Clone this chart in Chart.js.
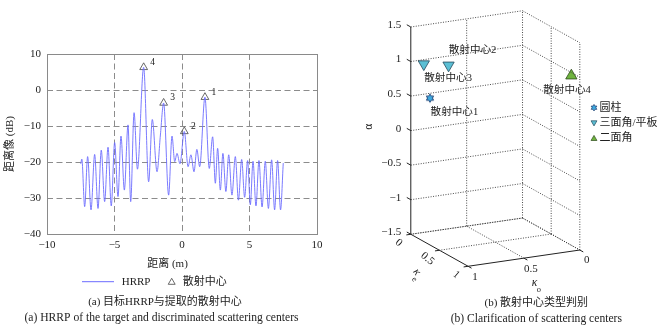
<!DOCTYPE html>
<html>
<head>
<meta charset="utf-8">
<script src="https://cdn.jsdelivr.net/npm/chart.js@4.4.1/dist/chart.umd.min.js"></script>
<style>
  html, body { margin: 0; padding: 0; background: #fff; }
  #wrap { position: relative; width: 664px; height: 329px; overflow: hidden; }
  #hrrp { position: absolute; left: 0; top: 0; }
  #types { position: absolute; left: 340px; top: 0; }
</style>
</head>
<body>
<div id="wrap">
  <canvas id="hrrp" width="340" height="329"></canvas>
  <canvas id="types" width="324" height="329"></canvas>
</div>
<script>
/* =====================================
   HRRP + SCATTERING CENTRE TYPES
===================================== */

const FONT = '"Liberation Serif", "Noto Sans CJK SC", serif';
const INK = "#222";

/* ---------- (a) HRRP DATA ---------- */
const rangeM = [
  -7.50, -7.42, -7.21, -6.99, -6.74, -6.47, -6.22, -5.98, -5.73, -5.48,
  -5.24, -4.99, -4.74, -4.52, -4.27, -4.00, -3.80, -3.55, -3.30, -2.84,
  -2.47, -2.20, -1.85, -1.60, -1.36, -0.99, -0.74, -0.54, -0.37, -0.15,
  0.17, 0.45, 0.66, 0.89, 1.10, 1.31, 1.70, 2.02, 2.27, 2.47,
  2.64, 2.84, 3.03, 3.25, 3.46, 3.70, 3.95, 4.18, 4.42, 4.64,
  4.86, 5.06, 5.26, 5.48, 5.70, 5.93, 6.17, 6.40, 6.64, 6.86,
  7.08, 7.30, 7.50
];
const hrrpDb = [
  -20.5, -19.2, -32.4, -18.5, -33.3, -17.9, -32.9, -16.7, -31.0, -15.9,
  -32.2, -14.6, -29.6, -12.8, -27.8, -9.7, -31.0, -6.3, -22.0, 6.3,
  -25.5, -8.2, -22.7, -12.5, -3.6, -29.2, -12.8, -19.9, -17.6, -20.5,
  -11.5, -21.3, -18.0, -22.7, -16.5, -21.3, -2.0, -21.8, -13.0, -25.9,
  -16.2, -27.8, -17.6, -28.2, -18.0, -29.2, -18.5, -30.6, -19.3, -29.8,
  -19.6, -31.9, -19.8, -32.2, -19.6, -32.5, -19.8, -32.9, -19.4, -33.3,
  -19.6, -33.3, -20.3
];

// extracted centres (peak positions)
const centerRange = [1.70, 0.17, -1.36, -2.84];
const centerDb = [-2.0, -11.5, -3.6, 6.3];
const centerNo = ["1", "2", "3", "4"];

const rangeTicks = [-10, -5, 0, 5, 10];
const dbTicks = [-40, -30, -20, -10, 0, 10];

/* ---------- (b) CENTRE TYPE DATA ---------- */
const kappaO = [0.89, 0.78, 0.94, 0.04];
const kappaE = [0.12, 0.23, 0.11, 0.93];
const alphaVal = [0.5, 1, 1, 1];
const centerNames = ["散射中心1", "散射中心2", "散射中心3", "散射中心4"];
const centerType = [0, 1, 1, 2];
const typeNames = ["圆柱", "三面角/平板", "二面角"];

const alphaTicks = [-1.5, -1, -0.5, 0, 0.5, 1, 1.5];
const kappaTicks = [0, 0.5, 1];

/* ---------- HELPERS ---------- */
const minus = v => String(v).replace("-", "\u2212");

function trianglePath(ctx, x, y, r, down) {
  const s = down ? -1 : 1;
  ctx.beginPath();
  ctx.moveTo(x, y - s * r);
  ctx.lineTo(x + r * 0.866, y + s * r * 0.5);
  ctx.lineTo(x - r * 0.866, y + s * r * 0.5);
  ctx.closePath();
}

function hexagramPath(ctx, x, y, r) {
  ctx.beginPath();
  for (let k = 0; k < 12; k++) {
    const rr = k % 2 === 0 ? r : r * 0.577;
    const ang = -Math.PI / 2 + k * Math.PI / 6;
    const px = x + rr * Math.cos(ang);
    const py = y + rr * Math.sin(ang);
    if (k) ctx.lineTo(px, py); else ctx.moveTo(px, py);
  }
  ctx.closePath();
}

function text(ctx, str, x, y, opts = {}) {
  ctx.save();
  ctx.font = (opts.size || 11) + "px " + FONT;
  ctx.fillStyle = opts.color || INK;
  ctx.textAlign = opts.align || "center";
  ctx.textBaseline = "middle";
  ctx.translate(x, y);
  if (opts.rot) ctx.rotate(opts.rot);
  ctx.fillText(str, 0, 0);
  ctx.restore();
}

// kappa with a small subscript letter
function kappaLabel(ctx, sub, x, y, rot) {
  ctx.save();
  ctx.translate(x, y);
  if (rot) ctx.rotate(rot);
  ctx.fillStyle = INK;
  ctx.textBaseline = "middle";
  ctx.textAlign = "left";
  ctx.font = "italic 11.5px " + FONT;
  ctx.fillText("\u03BA", -5, -2);
  ctx.font = "8.5px " + FONT;
  ctx.fillText(sub, 0, 4.5);
  ctx.restore();
}

/* ---------- (a) CHART ---------- */
const hrrpDecor = {
  id: "hrrpDecor",
  beforeDatasetsDraw(chart) {
    const { ctx, chartArea: a } = chart;
    ctx.save();
    ctx.strokeStyle = "#8a8a8a";
    ctx.lineWidth = 1;
    ctx.strokeRect(a.left + 0.5, a.top + 0.5, a.right - a.left, a.bottom - a.top);
    ctx.restore();
  },
  afterDatasetsDraw(chart) {
    const { ctx } = chart;
    const marks = chart.getDatasetMeta(1).data;
    marks.forEach((p, i) => text(ctx, centerNo[i], p.x + 9, p.y - 5, { size: 9.5 }));

    text(ctx, "距离 (m)", 167.5, 264);
    text(ctx, "距离像 (dB)", 10, 144, { rot: -Math.PI / 2 });

    // legend
    ctx.save();
    ctx.strokeStyle = chart.data.datasets[0].borderColor;
    ctx.lineWidth = 1;
    ctx.beginPath();
    ctx.moveTo(82, 281.7);
    ctx.lineTo(114, 281.7);
    ctx.stroke();
    ctx.strokeStyle = "#444";
    ctx.lineWidth = 0.8;
    trianglePath(ctx, 171.7, 282.3, 4, false);
    ctx.stroke();
    ctx.restore();
    text(ctx, chart.data.datasets[0].label, 121.7, 281.7, { align: "left" });
    text(ctx, chart.data.datasets[1].label, 182.7, 281.7, { align: "left" });

    text(ctx, "(a) 目标HRRP与提取的散射中心", 165, 301.7);
    text(ctx, "(a) HRRP of the target and discriminated scattering centers", 161.5, 318, { size: 11.6 });
  }
};

const edgeFree = (edges) => c =>
  c.tick && edges.includes(c.tick.value) ? "rgba(0,0,0,0)" : "#8c8c8c";

new Chart(document.getElementById("hrrp"), {
  type: "scatter",
  data: {
    datasets: [
      {
        label: "HRRP",
        data: rangeM.map((x, i) => ({ x, y: hrrpDb[i] })),
        showLine: true,
        borderColor: "#6c6cff",
        borderWidth: 0.9,
        pointRadius: 0,
        cubicInterpolationMode: "monotone"
      },
      {
        label: "散射中心",
        data: centerRange.map((x, i) => ({ x, y: centerDb[i] })),
        pointStyle: "triangle",
        pointRadius: 4.5,
        borderColor: "#444",
        borderWidth: 0.8,
        backgroundColor: "rgba(0,0,0,0)"
      }
    ]
  },
  options: {
    responsive: false,
    animation: false,
    events: [],
    layout: { padding: { top: 54, right: 23, left: 0, bottom: 0 } },
    plugins: { legend: { display: false }, tooltip: { enabled: false } },
    scales: {
      x: {
        type: "linear",
        min: rangeTicks[0],
        max: rangeTicks[rangeTicks.length - 1],
        afterBuildTicks: s => { s.ticks = rangeTicks.map(v => ({ value: v })); },
        afterFit: s => { s.height = 95; },
        grid: { color: edgeFree([-10, 10]), lineWidth: 1, drawTicks: false },
        border: { display: false, dash: [6, 3.5] },
        ticks: {
          padding: 5,
          color: INK,
          font: { family: FONT, size: 11 },
          maxRotation: 0,
          callback: v => minus(v)
        }
      },
      y: {
        type: "linear",
        min: dbTicks[0],
        max: dbTicks[dbTicks.length - 1],
        afterBuildTicks: s => { s.ticks = dbTicks.map(v => ({ value: v })); },
        afterFit: s => { s.width = 47; },
        grid: { color: edgeFree([-40, 10]), lineWidth: 1, drawTicks: false },
        border: { display: false, dash: [6, 3.5] },
        ticks: {
          padding: 6,
          color: INK,
          font: { family: FONT, size: 11 },
          callback: v => minus(v)
        }
      }
    }
  },
  plugins: [hrrpDecor]
});

/* ---------- (b) 3-D BOX PROJECTION ---------- */
// orthographic view, back floor corner (κo=0, κe=0, α=min) at the origin
function proj(ko, ke, a) {
  return {
    x: -117 * ko + 60 * ke,
    y: -17 * ko - 33.5 * ke + 72.3 * (a - alphaTicks[0])
  };
}

const aMin = alphaTicks[0];
const aMax = alphaTicks[alphaTicks.length - 1];

const gridSegs = [];
alphaTicks.forEach(a => {
  gridSegs.push([[1, 0, a], [0, 0, a]]);
  gridSegs.push([[0, 0, a], [0, 1, a]]);
});
[0, 0.5].forEach(k => {
  gridSegs.push([[k, 0, aMin], [k, 0, aMax]]);
  gridSegs.push([[k, 0, aMin], [k, 1, aMin]]);
  gridSegs.push([[0, k, aMin], [1, k, aMin]]);
});
[0.5, 1].forEach(k => gridSegs.push([[0, k, aMin], [0, k, aMax]]));

const axisSegs = [
  [[1, 0, aMin], [1, 0, aMax]],
  [[1, 0, aMin], [1, 1, aMin]],
  [[1, 1, aMin], [0, 1, aMin]]
];
alphaTicks.forEach(a => axisSegs.push([[1, 0, a], [1, -0.07, a]]));
kappaTicks.forEach(k => {
  axisSegs.push([[1, k, aMin], [1.04, k, aMin]]);
  axisSegs.push([[k, 1, aMin], [k, 1.06, aMin]]);
});

const segSet = (seg, style) => Object.assign({
  data: seg.map(p => proj(...p)),
  showLine: true,
  pointRadius: 0
}, style);

const dotted = { borderColor: "#2a2a2a", borderWidth: 0.85, borderDash: [1, 1.5] };
const solid = { borderColor: "#222", borderWidth: 1 };

// marker looks per type
const typeFill = ["#3ea8df", "#5bbfd4", "#6fb43e"];
const typeEdge = ["#1d3c6e", "#23485a", "#2c4a1b"];

function hexagramCanvas(r) {
  const c = document.createElement("canvas");
  const s = Math.ceil(r * 2 + 3);
  c.width = s; c.height = s;
  const g = c.getContext("2d");
  hexagramPath(g, s / 2, s / 2, r);
  g.fillStyle = typeFill[0];
  g.fill();
  g.strokeStyle = typeEdge[0];
  g.lineWidth = 0.9;
  g.stroke();
  return c;
}

const typeSets = typeNames.map((name, t) => {
  const idx = centerType.map((v, i) => (v === t ? i : -1)).filter(i => i >= 0);
  return {
    label: name,
    centers: idx,
    data: idx.map(i => proj(kappaO[i], kappaE[i], alphaVal[i])),
    pointStyle: t === 0 ? hexagramCanvas(4.2) : "triangle",
    rotation: t === 1 ? 180 : 0,
    pointRadius: t === 0 ? 4.2 : 6.5,
    backgroundColor: typeFill[t],
    borderColor: typeEdge[t],
    borderWidth: 0.8
  };
});

const typeDecor = {
  id: "typeDecor",
  afterDatasetsDraw(chart) {
    const { ctx, scales } = chart;
    const px = p => ({ x: scales.x.getPixelForValue(p.x), y: scales.y.getPixelForValue(p.y) });

    // alpha ticks
    alphaTicks.forEach(a => {
      const b = px(proj(1, 0, a));
      text(ctx, minus(a), b.x - 9.5, b.y - 2, { align: "right" });
    });
    text(ctx, "\u03B1", 29.3, 126.7, { rot: -Math.PI / 2, size: 11.5 });

    // kappa_e ticks (front-left floor edge)
    kappaTicks.forEach(k => {
      const b = px(proj(1, k, aMin));
      text(ctx, String(k), b.x - 12, b.y + 8.5, { rot: 0.7 });
    });
    kappaLabel(ctx, "e", 76.7, 275, 0.9);

    // kappa_o ticks (front-right floor edge)
    kappaTicks.forEach(k => {
      const b = px(proj(k, 1, aMin));
      text(ctx, String(k), b.x + 7, b.y + 10.5);
    });
    kappaLabel(ctx, "o", 196.7, 285, 0);

    // centre names
    const nameShift = [[24.4, 14.3], [24, -14.7], [24.3, 14], [-4.3, 14.3]];
    centerNames.forEach((name, i) => {
      const p = px(proj(kappaO[i], kappaE[i], alphaVal[i]));
      text(ctx, name, p.x + nameShift[i][0], p.y + nameShift[i][1], { size: 10.6 });
    });

    // legend
    typeSets.forEach((ds, t) => {
      const y = 107.7 + t * 15.3;
      ctx.save();
      ctx.fillStyle = ds.backgroundColor;
      ctx.strokeStyle = ds.borderColor;
      ctx.lineWidth = 0.7;
      if (t === 0) hexagramPath(ctx, 254, y, 3.3);
      else trianglePath(ctx, 254, y + (t === 1 ? -0.5 : 0.5), 3.4, t === 1);
      ctx.fill();
      ctx.stroke();
      ctx.restore();
      text(ctx, ds.label, 259.5, y, { align: "left" });
    });

    text(ctx, "(b) 散射中心类型判别", 196.3, 303.3);
    text(ctx, "(b) Clarification of scattering centers", 196.3, 319, { size: 11.6 });
  }
};

new Chart(document.getElementById("types"), {
  type: "scatter",
  data: {
    datasets: [
      ...gridSegs.map(s => segSet(s, dotted)),
      ...axisSegs.map(s => segSet(s, solid)),
      ...typeSets
    ]
  },
  options: {
    responsive: false,
    animation: false,
    events: [],
    layout: { padding: 0 },
    plugins: { legend: { display: false }, tooltip: { enabled: false } },
    scales: {
      x: { type: "linear", display: false, min: -183.5, max: 140.5 },
      y: { type: "linear", display: false, min: -108.5, max: 220.5 }
    }
  },
  plugins: [typeDecor]
});
</script>
</body>
</html>
